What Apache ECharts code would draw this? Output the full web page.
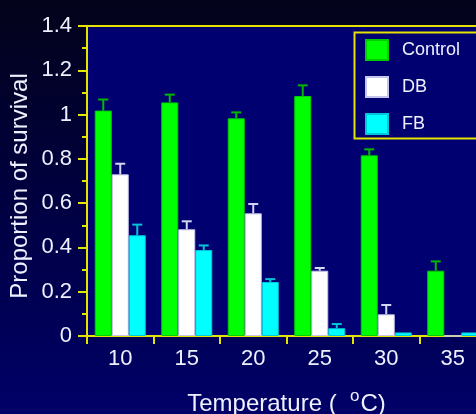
<!DOCTYPE html>
<html>
<head>
<meta charset="utf-8">
<script src="https://cdn.jsdelivr.net/npm/echarts@6/dist/echarts.min.js"></script>
<style>
  html, body { margin: 0; padding: 0; }
  #chart {
    width: 476px; height: 414px;
    background: linear-gradient(to bottom, #03031a 0%, #00003e 45%, #000068 100%);
  }
</style>
</head>
<body>
<div id="chart"></div>
<script>
// Survival proportion by rearing temperature
const temperatures = ['10', '15', '20', '25', '30', '35'];
const seriesNames = ['Control', 'DB', 'FB'];

const controlMean = [1.018, 1.055, 0.983, 1.084, 0.816, 0.295];
const controlErr  = [0.050, 0.035, 0.027, 0.048, 0.027, 0.042];
const dbMean      = [0.730, 0.482, 0.554, 0.295, 0.098, 0];
const dbErr       = [0.048, 0.036, 0.042, 0.012, 0.042, 0];
const fbMean      = [0.455, 0.388, 0.244, 0.035, 0.016, 0.016];
const fbErr       = [0.048, 0.021, 0.013, 0.019, 0, 0];

const yTicks = { min: 0, max: 1.4, interval: 0.2 };

const fills   = ['#00ff00', '#ffffff', '#00ffff'];
const borders = ['#00cc00', '#c4c4ec', '#00c8dc'];
const errCols = ['#00b800', '#d4d4f4', '#00c4d8'];

const BAR_W = 17;
const FONT = "'Liberation Sans', Arial, sans-serif";
const TEXT = '#eef0ff';
const YELLOW = '#e4e400';

const means = [controlMean, dbMean, fbMean];
const errs = [controlErr, dbErr, fbErr];

const barSeries = seriesNames.map((name, i) => ({
  name,
  type: 'bar',
  barWidth: BAR_W,
  barGap: '0%',
  data: means[i],
  itemStyle: { color: fills[i], borderColor: borders[i], borderWidth: 1 },
  z: 2
}));

// Upper error bars, drawn at each bar's centre
const errSeries = seriesNames.map((name, i) => ({
  name: name + ' error',
  type: 'custom',
  z: 3,
  data: means[i].map((m, k) => [k, m, errs[i][k]]),
  renderItem: function (params, api) {
    const e = api.value(2);
    if (!e) return null;
    const base = api.coord([api.value(0), api.value(1)]);
    const top = api.coord([api.value(0), api.value(1) + e]);
    const x = base[0] + (i - 1) * BAR_W;
    const half = 5;
    const style = { stroke: errCols[i], lineWidth: 2, fill: null };
    return {
      type: 'group',
      children: [
        { type: 'line', shape: { x1: x, y1: base[1], x2: x, y2: top[1] }, style },
        { type: 'line', shape: { x1: x - half, y1: top[1], x2: x + half, y2: top[1] }, style }
      ]
    };
  }
}));

const chart = echarts.init(document.getElementById('chart'), null, { renderer: 'canvas' });
chart.setOption({
  backgroundColor: 'transparent',
  animation: false,
  grid: {
    left: 87, top: 26, right: -10, bottom: 78,
    containLabel: false,
    outerBoundsMode: 'none',
    show: true,
    backgroundColor: '#000070',
    borderColor: YELLOW,
    borderWidth: 2
  },
  // legend frame runs past the right edge of the canvas
  graphic: [{
    type: 'rect',
    left: 352, top: 30,
    shape: { width: 160, height: 106 },
    style: { fill: null, stroke: YELLOW, lineWidth: 2 },
    z: 1
  }],
  legend: {
    data: seriesNames,
    orient: 'vertical',
    left: 353, top: 31,
    padding: [8, 12, 8, 12],
    itemWidth: 22, itemHeight: 20, itemGap: 15,
    icon: 'rect',
    borderWidth: 0,
    formatter: '{t|{name}}',
    textStyle: {
      color: TEXT, fontFamily: FONT, fontSize: 18,
      rich: { t: { color: TEXT, fontFamily: FONT, fontSize: 18, padding: [0, 0, 0, 9] } }
    }
  },
  xAxis: {
    type: 'category',
    data: temperatures,
    boundaryGap: true,
    axisLine: { lineStyle: { color: YELLOW, width: 2 } },
    axisTick: { show: true, inside: false, length: 8, lineStyle: { color: YELLOW, width: 2 } },
    axisLabel: { color: TEXT, fontFamily: FONT, fontSize: 22, margin: 12 },
    splitLine: { show: false },
    name: 'Temperature (  {sup|o}C)',
    nameLocation: 'middle',
    nameGap: 52,
    nameMoveOverlap: false,
    nameTextStyle: {
      color: TEXT, fontFamily: FONT, fontSize: 24,
      rich: { sup: { color: TEXT, fontFamily: FONT, fontSize: 17, padding: [0, 1, 16, 0] } }
    }
  },
  yAxis: {
    type: 'value',
    min: yTicks.min, max: yTicks.max, interval: yTicks.interval,
    axisLine: { show: true, lineStyle: { color: YELLOW, width: 2 } },
    axisTick: { show: true, inside: false, length: 9, lineStyle: { color: YELLOW, width: 2 } },
    minorTick: { show: true, splitNumber: 2, length: 5, lineStyle: { color: YELLOW, width: 2 } },
    axisLabel: { color: TEXT, fontFamily: FONT, fontSize: 22, margin: 15 },
    splitLine: { show: false },
    name: 'Proportion of survival',
    nameLocation: 'middle',
    nameRotate: 90,
    nameGap: 55,
    nameMoveOverlap: false,
    nameTextStyle: { color: TEXT, fontFamily: FONT, fontSize: 24, padding: [0, 10, 0, 0] }
  },
  series: barSeries.concat(errSeries)
});
</script>
</body>
</html>
